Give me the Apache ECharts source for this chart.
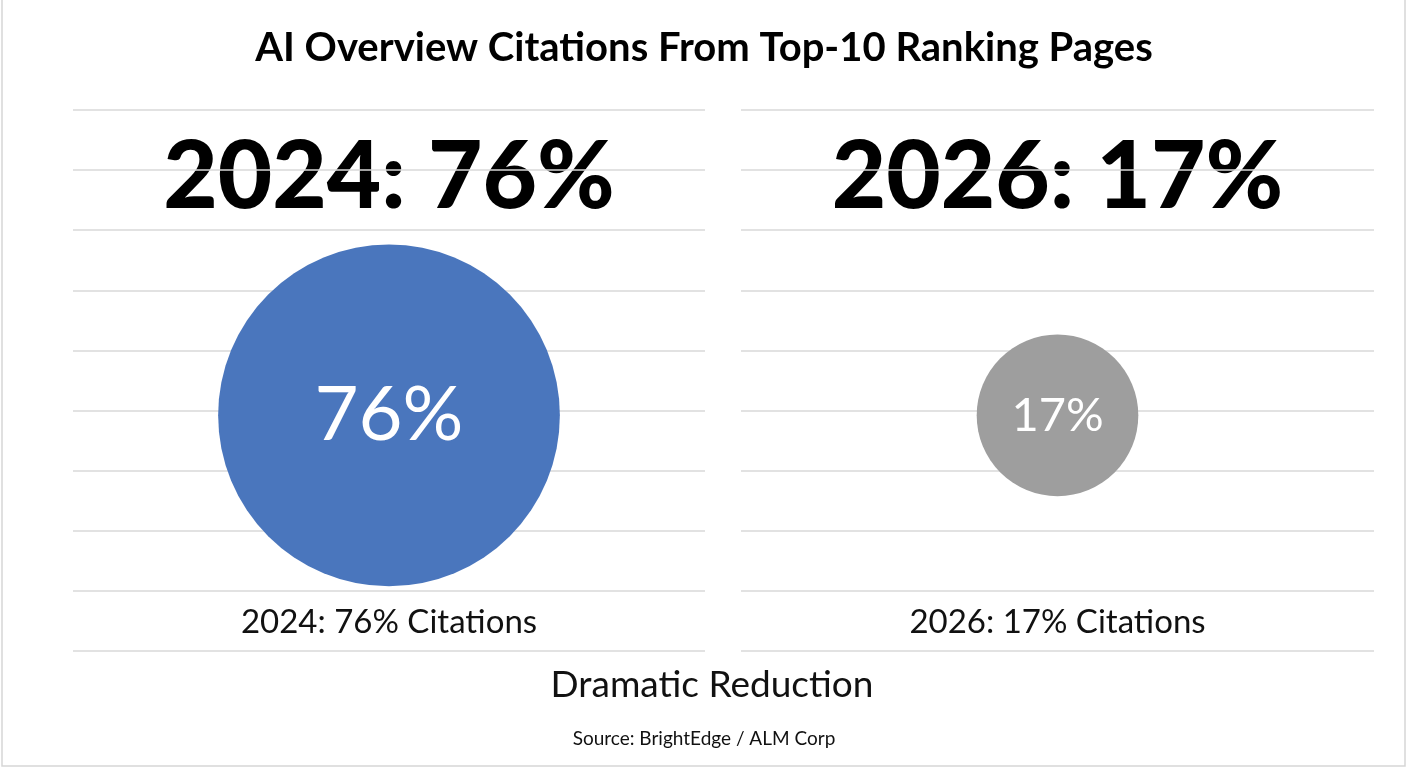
<!DOCTYPE html>
<html>
<head>
<meta charset="utf-8">
<script src="https://cdn.jsdelivr.net/npm/echarts@6/dist/echarts.min.js"></script>
<style>
  html, body { margin: 0; padding: 0; background: #ffffff; }
  #chart { width: 1408px; height: 768px; }
</style>
</head>
<body>
<div id="chart"></div>
<script>
// ---- data ----
const chartTitle = 'AI Overview Citations From Top-10 Ranking Pages';
const years = ['2024', '2026'];
const citationShare = [76, 17];
const footerText = 'Dramatic Reduction';
const sourceText = 'Source: BrightEdge / ALM Corp';
const gridTicks = [0, 1, 2, 3, 4, 5, 6, 7, 8, 9];

// ---- layout / style ----
const FONT = 'Lato, "Noto Sans", sans-serif';
const panelColors = ['#4a76bd', '#9e9e9e'];
const panels = [
  { left: 73, width: 632 },
  { left: 741, width: 633 }
];
const gridTop = 110, gridHeight = 541;
const circleY = 3.92;          // vertical placement inside the panel's axis
const sizeK = 39.2;            // area-proportional circle sizing
const labelSizes = [76, 47];

const chart = echarts.init(document.getElementById('chart'), null, { renderer: 'canvas' });

const grids = panels.map(p => ({ left: p.left, width: p.width, top: gridTop, height: gridHeight }));
const xAxes = years.map((y, i) => ({
  type: 'category', gridIndex: i, data: [y], boundaryGap: true,
  axisLine: { show: false }, axisTick: { show: false }, axisLabel: { show: false }, splitLine: { show: false }
}));
const yAxes = years.map((y, i) => ({
  type: 'value', gridIndex: i, min: gridTicks[0], max: gridTicks[gridTicks.length - 1], interval: 1,
  axisLine: { show: false }, axisTick: { show: false }, axisLabel: { show: false },
  splitLine: { show: true, lineStyle: { color: '#d9d9d9', width: 1.5 } }
}));
const series = years.map((y, i) => ({
  type: 'scatter', xAxisIndex: i, yAxisIndex: i,
  data: [[y, circleY, citationShare[i]]],
  symbol: 'circle',
  symbolSize: d => sizeK * Math.sqrt(d[2]),
  itemStyle: { color: panelColors[i], opacity: 1 },
  label: {
    show: true, position: 'inside', formatter: p => p.data[2] + '%',
    color: '#ffffff', fontFamily: FONT, fontSize: labelSizes[i], fontWeight: 400
  },
  emphasis: { disabled: true },
  silent: true
}));

const centers = panels.map(p => p.left + p.width / 2);
const graphics = [
  { type: 'rect', shape: { x: 2, y: -10, width: 1403, height: 776 }, style: { fill: 'none', stroke: '#d6d6d6', lineWidth: 1.5 }, silent: true },
  { type: 'text', x: 704, y: 48, style: { text: chartTitle, font: `700 40px ${FONT}`, fill: '#000', textAlign: 'center', textVerticalAlign: 'middle' } },
  { type: 'text', x: 712, y: 685, style: { text: footerText, font: `400 37px ${FONT}`, fill: '#111', textAlign: 'center', textVerticalAlign: 'middle' } },
  { type: 'text', x: 704, y: 739, style: { text: sourceText, font: `400 19px ${FONT}`, fill: '#111', textAlign: 'center', textVerticalAlign: 'middle' } }
];
years.forEach((y, i) => {
  graphics.push({ type: 'text', x: centers[i], y: 178, style: { text: `${y}: ${citationShare[i]}%`, font: `900 94px ${FONT}`, fill: '#000', textAlign: 'center', textVerticalAlign: 'middle' } });
  graphics.push({ type: 'text', x: centers[i], y: 622, style: { text: `${y}: ${citationShare[i]}% Citations`, font: `400 33px ${FONT}`, fill: '#111', textAlign: 'center', textVerticalAlign: 'middle' } });
});

chart.setOption({
  backgroundColor: '#ffffff',
  animation: false,
  grid: grids,
  xAxis: xAxes,
  yAxis: yAxes,
  series: series,
  graphic: graphics
});
</script>
</body>
</html>
